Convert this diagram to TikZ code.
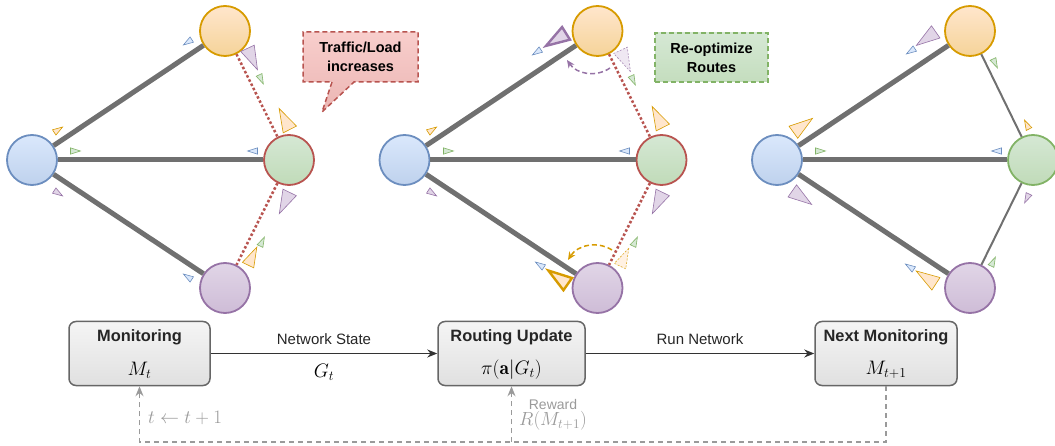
\documentclass[tikz,border=0pt]{standalone}
\usepackage{fix-cm}
\usepackage{fontspec}
\setsansfont{Liberation Sans}
\usetikzlibrary{arrows.meta,shapes.callouts}
\definecolor{bluefill}{HTML}{DAE8FC}
\definecolor{blueline}{HTML}{6C8EBF}
\definecolor{orangefill}{HTML}{FFE6CC}
\definecolor{orangeline}{HTML}{D79B00}
\definecolor{greenfill}{HTML}{D5E8D4}
\definecolor{greenline}{HTML}{82B366}
\definecolor{purplefill}{HTML}{E1D5E7}
\definecolor{purpleline}{HTML}{9673A6}
\definecolor{redfill}{HTML}{F8CECC}
\definecolor{redline}{HTML}{B85450}
\definecolor{boxline}{HTML}{666666}
\definecolor{linkgray}{HTML}{707070}
\definecolor{flowgray}{HTML}{333333}
\definecolor{fbgray}{HTML}{9A9A9A}

\tikzset{
  router/.style={circle, minimum size=50pt, inner sep=0pt, line width=1.8pt,
    draw=#1line, top color=#1fill, bottom color=#1fill!75!#1line},
  congested/.style={circle, minimum size=50pt, inner sep=0pt, line width=1.8pt,
    draw=redline, top color=greenfill, bottom color=greenfill!75!greenline},
  thicklink/.style={draw=linkgray, line width=5pt},
  thinlink/.style={draw=linkgray, line width=2pt},
  hotlink/.style={draw=redline, line width=2.5pt, dash pattern=on 2.5pt off 2.2pt},
  pktline/.style={line width=0.6pt, line join=miter},
  heavy/.style={line width=2.4pt},
  ghost/.style={dash pattern=on 2pt off 1.5pt, fill opacity=0.55, draw opacity=0.8},
  stage/.style={rectangle, rounded corners=7pt, draw=boxline, line width=1.5pt,
    top color=white!96!black, bottom color=white!88!black,
    minimum width=141pt, minimum height=64pt},
  stagetitle/.style={font=\sffamily\bfseries\fontsize{16.4}{19}\selectfont, text=black!85, inner sep=0pt},
  stagemath/.style={font=\fontsize{19.5}{23}\selectfont, inner sep=0pt},
  flow/.style={draw=flowgray, line width=1.5pt, -{Stealth[length=10pt,width=8pt]}},
  feedback/.style={draw=fbgray, line width=1.5pt, dash pattern=on 5pt off 4pt},
  note/.style={font=\sffamily\bfseries\fontsize{14.5}{19}\selectfont, align=center,
    line width=1.5pt, dash pattern=on 5pt off 3pt},
  sidetext/.style={text=fbgray, inner sep=0pt}
}
% packet marker: [style]{centre}{angle}{size}{colour}
\newcommand{\pkt}[5][]{\draw[pktline,draw=#5line,fill=#5fill,shift={(#2)},#1]
  (#3:#4) -- ({#3+145}:#4) -- ({#3-145}:#4) -- cycle;}

\begin{document}
\begin{tikzpicture}[x=1pt,y=-1pt]
\useasboundingbox (0,0) rectangle (1055,446);

% routers, before / during / after
\node[router=blue]   (l1) at (32,160) {};
\node[router=orange] (t1) at (225,31) {};
\node[congested]     (r1) at (289,160) {};
\node[router=purple] (b1) at (225,288) {};

\node[router=blue]   (l2) at (404.5,160) {};
\node[router=orange] (t2) at (597.5,31) {};
\node[congested]     (r2) at (661.5,160) {};
\node[router=purple] (b2) at (597.5,288) {};

\node[router=blue]   (l3) at (777,160) {};
\node[router=orange] (t3) at (970,31) {};
\node[router=green]  (r3) at (1033,160) {};
\node[router=purple] (b3) at (970,288) {};

\draw[thicklink] (l1) -- (t1); \draw[thicklink] (l1) -- (r1); \draw[thicklink] (l1) -- (b1);
\draw[hotlink] (t1) -- (r1); \draw[hotlink] (r1) -- (b1);
\draw[thicklink] (l2) -- (t2); \draw[thicklink] (l2) -- (r2); \draw[thicklink] (l2) -- (b2);
\draw[hotlink] (t2) -- (r2); \draw[hotlink] (r2) -- (b2);
\draw[thicklink] (l3) -- (t3); \draw[thicklink] (l3) -- (r3); \draw[thicklink] (l3) -- (b3);
\draw[thinlink] (t3) -- (r3); \draw[thinlink] (r3) -- (b3);

% packets, panel 1
\pkt{188,42}{147}{5.5}{blue}
\pkt{252,58}{65}{13}{purple}
\pkt{261,79}{65}{5.5}{green}
\pkt{58,130}{327}{5.5}{orange}
\pkt{75,151}{0}{5.5}{green}
\pkt{253,151}{180}{5.5}{blue}
\pkt{285,120}{243}{13}{orange}
\pkt{58,193}{33}{5.5}{purple}
\pkt{285,202}{116}{13}{purple}
\pkt{262,242}{296}{5.5}{green}
\pkt{252,257}{296}{11}{orange}
\pkt{188,277}{213}{5.5}{blue}

% packets, panel 2
\pkt[heavy]{557,39}{148}{13}{purple}
\pkt{537,52}{147}{5.5}{blue}
\pkt[ghost]{625,60}{65}{13}{purple}
\pkt{633,80}{65}{5.5}{green}
\pkt{658,118}{243}{13}{orange}
\pkt{432,130}{327}{5.5}{orange}
\pkt{448,151}{0}{5.5}{green}
\pkt{625,151}{180}{5.5}{blue}
\pkt{432,193}{33}{5.5}{purple}
\pkt{658,202}{116}{13}{purple}
\pkt{635,242}{296}{5.5}{green}
\pkt[ghost]{624,258}{296}{11}{orange}
\pkt{540,265}{213}{5.5}{blue}
\pkt[heavy]{559,278}{215}{13}{orange}

\coordinate (pa) at (610,68);  \coordinate (pb) at (567,60);
\coordinate (oa) at (612,250); \coordinate (ob) at (568,260);
\draw[draw=purpleline, line width=1.5pt, dash pattern=on 5pt off 3pt, -{Stealth[length=8pt,width=7pt]}] (pa) to[bend left=45] (pb);
\draw[draw=orangeline, line width=1.5pt, dash pattern=on 5pt off 3pt, -{Stealth[length=8pt,width=7pt]}] (oa) to[bend right=45] (ob);

% packets, panel 3
\pkt{927,38}{145}{13}{purple}
\pkt{911,51}{147}{5.5}{blue}
\pkt{995,63}{64}{5.5}{green}
\pkt{802,126}{324}{13}{orange}
\pkt{1027,125}{243}{5.5}{orange}
\pkt{820,151}{0}{5.5}{green}
\pkt{997,151}{180}{5.5}{blue}
\pkt{1027,198}{116}{5.5}{purple}
\pkt{801,197}{35}{13}{purple}
\pkt{993,262}{296}{5.5}{green}
\pkt{910,267}{213}{5.5}{blue}
\pkt{927,278}{213}{13}{orange}

% notes
\node[note, rectangle callout, callout absolute pointer={(322,112)}, callout pointer width=22pt,
  draw=redline, top color=redfill, bottom color=redfill!80!redline,
  minimum width=115pt, minimum height=50pt] (load) at (360.5,57) {Traffic/Load\\increases};
\node[note, rectangle, draw=greenline, top color=greenfill, bottom color=greenfill!80!greenline,
  minimum width=113pt, minimum height=49pt] (reopt) at (711.5,57.5) {Re-optimize\\Routes};

% control loop
\node[stage] (mon) at (139.5,353.5) {};
\node[stage, minimum width=147pt] (rou) at (511.5,353.5) {};
\node[stage, minimum width=142pt] (nxt) at (886,353.5) {};
\node[stagetitle] at (139.5,337) {Monitoring};
\node[stagemath] at (139.5,370) {$M_t$};
\node[stagetitle] at (511.5,337) {Routing Update};
\node[stagemath] at (511.5,370) {$\pi(\mathbf{a}|G_t)$};
\node[stagetitle] at (886,337) {Next Monitoring};
\node[stagemath] at (886,370) {$M_{t+1}$};

\draw[flow] (mon) -- node[above=8pt, inner sep=0pt, font=\sffamily\fontsize{15}{18}\selectfont, text=black!85] {Network State}
  node[below=10pt, inner sep=0pt, font=\fontsize{19.5}{23}\selectfont] {$G_t$} (rou);
\draw[flow] (rou) -- node[above=8pt, inner sep=0pt, font=\sffamily\fontsize{15}{18}\selectfont, text=black!85] {Run Network} (nxt);

\coordinate (loop) at (0,442);
\draw[feedback, -{Stealth[length=10pt,width=8pt]}] (nxt.south) -- (nxt.south |- loop) -| (mon.south);
\draw[feedback, -{Stealth[length=10pt,width=8pt]}] (rou.south |- loop) -- (rou.south);
\node[sidetext, anchor=west, font=\fontsize{19}{22}\selectfont] at (148,418) {$t \leftarrow t+1$};
\node[sidetext, font=\sffamily\fontsize{14}{17}\selectfont] at (553,404) {Reward};
\node[sidetext, font=\fontsize{19}{22}\selectfont] at (553,421) {$R(M_{t+1})$};
\end{tikzpicture}
\end{document}
